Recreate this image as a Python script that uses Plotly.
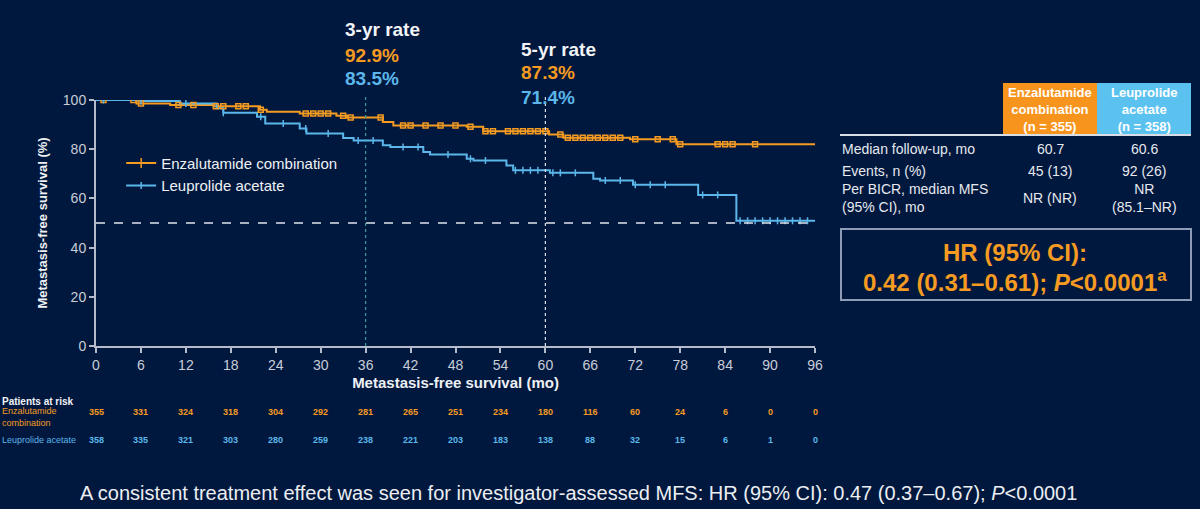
import numpy as np
import plotly.graph_objects as go

# ---------------- data ----------------
enz_t = [0, 5.4, 9.9, 15.7, 21.9, 22.8, 27.2, 32.1, 33.5, 38.3, 39.7, 49.5, 51.7, 60.5, 62.4, 71.3, 77.5, 96]
enz_s = [100, 98.6, 98.0, 97.5, 96.0, 95.2, 94.5, 93.6, 92.9, 91.1, 89.6, 89.1, 87.3, 86.0, 84.7, 84.0, 82.0, 82.0]
enz_cens = [1, 5, 6, 11, 13, 16, 17, 19, 20, 22, 28, 29, 30, 31, 33, 34, 38, 41, 42, 44, 46, 48, 50,
            52, 53, 55, 56, 57, 58, 59, 60, 62, 63, 64, 65, 66, 67, 68, 69, 70, 72, 75, 77, 78, 83, 84, 85, 88]

leu_t = [0, 5.9, 11.2, 16.1, 17.0, 21.5, 22.6, 27.2, 28.1, 33.0, 34.4, 38.3, 39.3, 43.7, 44.6, 49.5, 50.4,
         54.8, 55.7, 60.6, 66.4, 67.3, 71.7, 80.4, 85.5, 96]
leu_s = [100, 99.6, 98.6, 96.6, 94.8, 93.2, 90.4, 88.4, 86.4, 84.6, 83.5, 81.6, 80.9, 78.9, 77.8, 76.1, 75.4,
         73.4, 71.4, 70.4, 68.0, 67.3, 65.5, 61.4, 50.9, 50.9]
leu_cens = [1, 6, 12, 17, 22, 25, 28, 31, 35, 37, 41, 43, 47, 50, 52, 56, 57, 58, 59, 61, 62, 64, 68, 70,
            72, 74, 76, 81, 83, 86, 87, 88, 89, 90, 91, 92, 93, 94, 95]

risk_months = [0, 6, 12, 18, 24, 30, 36, 42, 48, 54, 60, 66, 72, 78, 84, 90, 96]
risk_enz = [355, 331, 324, 318, 304, 292, 281, 265, 251, 234, 180, 116, 60, 24, 6, 0, 0]
risk_leu = [358, 335, 321, 303, 280, 259, 238, 221, 203, 183, 138, 88, 32, 15, 6, 1, 0]

rate_3yr = ["92.9%", "83.5%"]
rate_5yr = ["87.3%", "71.4%"]

table_rows = ["Median follow-up, mo", "Events, n (%)", "Per BICR, median MFS<br>(95% CI), mo"]
table_enz = ["60.7", "45 (13)", "NR (NR)"]
table_leu = ["60.6", "92 (26)", "NR<br>(85.1–NR)"]

# ---------------- style ----------------
BG = "#00183e"
ORANGE = "#f59b22"
BLUE = "#5bb6ea"
AX = "#b4bccb"
TXT = "#e6e8ee"
FONT = "Liberation Sans, Arial, sans-serif"

W, H = 1200, 509
L, R, T, B = 96, 815, 100, 346


def px(p):  # pixel x -> paper
    return (p - L) / (R - L)


def py(p):  # pixel y -> paper
    return (B - p) / (B - T)


def step_val(t, s, x):
    idx = np.searchsorted(np.array(t), np.array(x), side="right") - 1
    return np.array(s)[idx]


fig = go.Figure()

# step curves
for t, s, c in [(enz_t, enz_s, ORANGE), (leu_t, leu_s, BLUE)]:
    fig.add_trace(go.Scatter(x=t, y=s, mode="lines", line=dict(color=c, width=2, shape="hv"),
                             showlegend=False, hoverinfo="skip"))

# censor marks
fig.add_trace(go.Scatter(x=enz_cens, y=step_val(enz_t, enz_s, enz_cens), mode="markers",
                         marker=dict(symbol="square-open", size=5, color=ORANGE, line=dict(width=1.5)),
                         showlegend=False, hoverinfo="skip"))
fig.add_trace(go.Scatter(x=leu_cens, y=step_val(leu_t, leu_s, leu_cens), mode="markers",
                         marker=dict(symbol="line-ns-open", size=5, color=BLUE, line=dict(width=1.5, color=BLUE)),
                         showlegend=False, hoverinfo="skip"))

# legend entries
fig.add_trace(go.Scatter(x=[None], y=[None], mode="lines+markers", name="Enzalutamide combination",
                         line=dict(color=ORANGE, width=2),
                         marker=dict(symbol="line-ns-open", size=7, color=ORANGE, line=dict(width=1.5, color=ORANGE))))
fig.add_trace(go.Scatter(x=[None], y=[None], mode="lines+markers", name="Leuprolide acetate",
                         line=dict(color=BLUE, width=2),
                         marker=dict(symbol="line-ns-open", size=5, color=BLUE, line=dict(width=1.5, color=BLUE))))

shapes = [
    dict(type="line", xref="x", yref="y", x0=0, x1=96, y0=50, y1=50,
         line=dict(color="#dfe3ea", width=1.5, dash="dash")),
    dict(type="line", xref="x", yref="paper", x0=36, x1=36, y0=0, y1=py(97),
         line=dict(color="#3c9c9c", width=1.2, dash="dot")),
    dict(type="line", xref="x", yref="paper", x0=60, x1=60, y0=0, y1=py(97),
         line=dict(color="#dfe3ea", width=1.2, dash="dot")),
    # table header boxes
    dict(type="rect", xref="paper", yref="paper", x0=px(1003), x1=px(1097), y0=py(135), y1=py(83),
         fillcolor="#f7941d", line=dict(width=0), layer="below"),
    dict(type="rect", xref="paper", yref="paper", x0=px(1097), x1=px(1191), y0=py(135), y1=py(83),
         fillcolor="#5bc2ef", line=dict(width=0), layer="below"),
    dict(type="line", xref="paper", yref="paper", x0=px(840), x1=px(1191), y0=py(135), y1=py(135),
         line=dict(color="#d8dce4", width=2)),
    # HR box
    dict(type="rect", xref="paper", yref="paper", x0=px(841), x1=px(1191), y0=py(300), y1=py(229),
         line=dict(color="#8e9cb8", width=2)),
]

ann = []


def A(text, x, y, size, color, bold=False, xanchor="left", xref="paper", align="left"):
    ann.append(dict(text=f"<b>{text}</b>" if bold else text, x=x, y=y, xref=xref, yref="paper",
                    xanchor=xanchor, yanchor="middle", showarrow=False, align=align,
                    font=dict(family=FONT, size=size, color=color)))


# rate labels
A("3-yr rate", px(343), py(30), 19, "#f2f3f6", True)
A(rate_3yr[0], px(343), py(56), 19, ORANGE, True)
A(rate_3yr[1], px(343), py(79), 19, BLUE, True)
A("5-yr rate", px(519), py(49), 19, "#f2f3f6", True)
A(rate_5yr[0], px(519), py(73), 19, ORANGE, True)
A(rate_5yr[1], px(519), py(97), 19, BLUE, True)

# patients at risk
A("Patients at risk", px(0), py(401), 10, "#f2f3f6", True)
A("Enzalutamide<br>combination", px(0), py(417), 9, ORANGE, False)
A("Leuprolide acetate", px(0), py(440), 9, BLUE, False)
for m, a, b in zip(risk_months, risk_enz, risk_leu):
    A(str(a), m, py(412), 9, ORANGE, True, xanchor="center", xref="x")
    A(str(b), m, py(440), 9, BLUE, True, xanchor="center", xref="x")

# table
A("Enzalutamide<br>combination<br>(n = 355)", px(1050), py(109), 13, "#ffffff", True, "center", align="center")
A("Leuprolide<br>acetate<br>(n = 358)", px(1144), py(109), 13, "#ffffff", True, "center", align="center")
row_y = [149, 171, 198]
for r, e, l, yy in zip(table_rows, table_enz, table_leu, row_y):
    A(r, px(840), py(yy), 14, TXT, False)
    A(e, px(1050), py(yy), 14, TXT, False, "center", align="center")
    A(l, px(1144), py(yy), 14, TXT, False, "center", align="center")

A("HR (95% CI):", px(1015), py(252), 24, ORANGE, True, "center")
A("0.42 (0.31–0.61); <i>P</i><0.0001<sup>a</sup>", px(1015), py(281), 24, ORANGE, True, "center")

# footnote
A("A consistent treatment effect was seen for investigator-assessed MFS: HR (95% CI): 0.47 (0.37–0.67); <i>P</i><0.0001",
  px(578), py(493), 20, "#eceef2", False, "center")

fig.update_layout(
    width=W, height=H,
    paper_bgcolor=BG, plot_bgcolor=BG,
    margin=dict(l=L, r=W - R, t=T, b=H - B),
    font=dict(family=FONT, color=TXT),
    shapes=shapes, annotations=ann,
    legend=dict(x=0.035, y=0.81, xanchor="left", yanchor="top", bgcolor="rgba(0,0,0,0)",
                font=dict(family=FONT, size=15, color="#eef0f4"), itemwidth=30, tracegroupgap=0),
)
fig.update_xaxes(range=[0, 96], tickvals=risk_months, showgrid=False, zeroline=False,
                 showline=True, linecolor=AX, linewidth=2, ticks="outside", ticklen=5, tickcolor=AX, tickwidth=2,
                 tickfont=dict(size=14, color="#c9ced8"),
                 title=dict(text="<b>Metastasis-free survival (mo)</b>", font=dict(size=15, color="#eef0f4"),
                            standoff=6))
fig.update_yaxes(range=[0, 100], tickvals=[0, 20, 40, 60, 80, 100], showgrid=False, zeroline=False,
                 showline=True, linecolor=AX, linewidth=2, ticks="outside", ticklen=5, tickcolor=AX, tickwidth=2,
                 tickfont=dict(size=14, color="#c9ced8"),
                 title=dict(text="<b>Metastasis-free survival (%)</b>", font=dict(size=13, color="#eef0f4"),
                            standoff=12))

fig.write_html("out.html", config={"displayModeBar": False},
               post_script="document.body.style.margin='0';document.body.style.background='" + BG + "';")
